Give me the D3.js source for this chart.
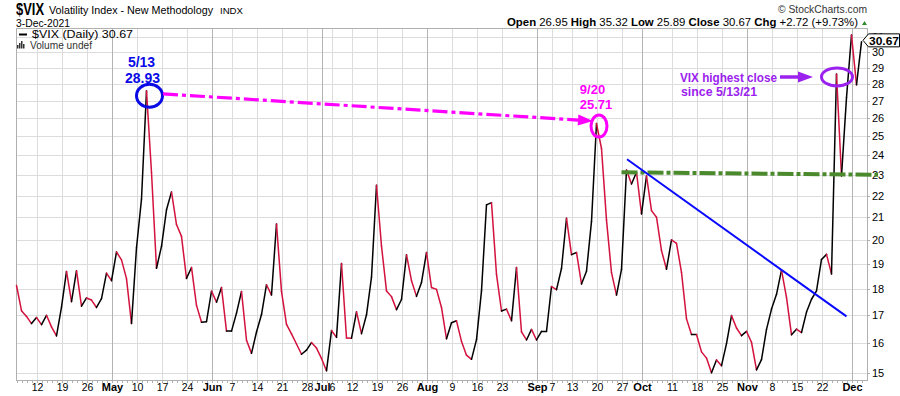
<!DOCTYPE html>
<html>
<head>
<meta charset="utf-8">
<script src="https://cdn.jsdelivr.net/npm/d3@7"></script>
<style>
  body { margin: 0; background: #fff; }
  svg { display: block; font-family: "Liberation Sans", Arial, sans-serif; }
</style>
</head>
<body>
<div id="chart"></div>
<script>
// trading days, 2021
const days = [
  "4/6","4/7","4/8","4/9","4/12","4/13","4/14","4/15","4/16","4/19","4/20","4/21","4/22","4/23","4/26","4/27","4/28","4/29","4/30",
  "5/3","5/4","5/5","5/6","5/7","5/10","5/11","5/12","5/13","5/14","5/17","5/18","5/19","5/20","5/21","5/24","5/25","5/26","5/27","5/28",
  "6/1","6/2","6/3","6/4","6/7","6/8","6/9","6/10","6/11","6/14","6/15","6/16","6/17","6/18","6/21","6/22","6/23","6/24","6/25","6/28","6/29","6/30",
  "7/1","7/2","7/6","7/7","7/8","7/9","7/12","7/13","7/14","7/15","7/16","7/19","7/20","7/21","7/22","7/23","7/26","7/27","7/28","7/29","7/30",
  "8/2","8/3","8/4","8/5","8/6","8/9","8/10","8/11","8/12","8/13","8/16","8/17","8/18","8/19","8/20","8/23","8/24","8/25","8/26","8/27","8/30","8/31",
  "9/1","9/2","9/3","9/7","9/8","9/9","9/10","9/13","9/14","9/15","9/16","9/17","9/20","9/21","9/22","9/23","9/24","9/27","9/28","9/29","9/30",
  "10/1","10/4","10/5","10/6","10/7","10/8","10/11","10/12","10/13","10/14","10/15","10/18","10/19","10/20","10/21","10/22","10/25","10/26","10/27","10/28","10/29",
  "11/1","11/2","11/3","11/4","11/5","11/8","11/9","11/10","11/11","11/12","11/15","11/16","11/17","11/18","11/19","11/22","11/23","11/24","11/26","11/29","11/30",
  "12/1","12/2","12/3"
];

const closes = [
  18.12,17.16,16.95,16.69,16.91,16.65,16.99,16.57,16.25,17.29,18.68,17.50,18.71,17.33,17.64,17.56,17.28,17.61,18.61,
  18.31,19.48,19.15,18.39,16.69,19.66,21.84,27.59,23.13,18.81,19.72,21.34,22.18,20.67,20.15,18.40,18.84,17.36,16.74,16.76,
  17.90,17.48,18.04,16.42,16.42,17.07,17.89,16.10,15.65,16.39,17.02,18.15,17.75,20.70,17.89,16.66,16.32,15.97,15.62,15.76,16.02,15.83,
  15.48,15.07,16.44,16.20,19.00,16.18,16.17,17.12,16.33,17.01,18.45,22.50,19.73,17.91,17.69,17.20,17.58,19.36,18.31,17.70,18.24,
  19.46,18.04,17.97,17.28,16.15,16.72,16.79,16.06,15.59,15.45,16.12,17.91,21.57,21.67,18.56,17.15,17.22,16.79,18.84,16.39,16.11,16.48,
  16.11,16.41,16.41,18.08,17.96,18.80,20.95,19.37,19.46,18.18,18.69,20.81,25.71,24.36,20.87,18.63,17.75,18.76,23.25,22.56,23.14,
  21.15,22.96,21.30,21.00,19.54,18.77,20.00,19.85,18.64,16.86,16.30,16.30,15.70,15.49,15.01,15.43,15.24,15.98,16.98,16.53,16.26,
  16.41,16.03,15.10,15.44,16.48,17.22,17.78,18.73,17.66,16.29,16.49,16.37,17.11,17.59,17.91,19.17,19.38,18.58,28.62,22.96,27.19,
  31.12,27.95,30.67
];

const tickDays = ["4/12","4/19","4/26","5/3","5/10","5/17","5/24","6/1","6/7","6/14","6/21","6/28","7/1","7/6","7/12","7/19","7/26",
  "8/2","8/9","8/16","8/23","9/1","9/7","9/13","9/20","9/27","10/1","10/11","10/18","10/25","11/1","11/8","11/15","11/22","12/1"];
const tickLabels = ["12","19","26","May","10","17","24","Jun","7","14","21","28","Jul","6","12","19","26",
  "Aug","9","16","23","Sep","7","13","20","27","Oct","11","18","25","Nov","8","15","22","Dec"];
const monthLabels = ["May","Jun","Jul","Aug","Sep","Oct","Nov","Dec"];

const yTicks = [15,16,17,18,19,20,21,22,23,24,25,26,27,28,29,30,31];

const quoteLabels = ["Open","High","Low","Close","Chg"];
const quoteValues = ["26.95","35.32","25.89","30.67","+2.72 (+9.73%)"];
const lastClose = 30.67;

const W = 900, H = 396;
const plotL = 16, plotR = 867, plotT = 28, plotB = 380;

const svg = d3.select("#chart").append("svg")
  .attr("width", W)
  .attr("height", H);

svg.append("rect").attr("width", W).attr("height", H).attr("fill", "#fff");

const x = d3.scalePoint().domain(days).range([16.5, 861.5]);
const y = d3.scaleLog().domain([15, 31]).range([373, 36.9]);

// grid
svg.append("g").selectAll("line")
  .data(yTicks)
  .join("line")
  .attr("x1", plotL).attr("x2", plotR)
  .attr("y1", d => Math.round(y(d)) + 0.5).attr("y2", d => Math.round(y(d)) + 0.5)
  .attr("stroke", "#dcdcdc");

svg.append("g").selectAll("line")
  .data(tickDays)
  .join("line")
  .attr("x1", d => Math.round(x(d)) + 0.5).attr("x2", d => Math.round(x(d)) + 0.5)
  .attr("y1", plotT).attr("y2", plotB)
  .attr("stroke", (d, i) => monthLabels.includes(tickLabels[i]) ? "#b4b4b4" : "#dcdcdc");

// frame
svg.append("rect")
  .attr("x", plotL + 0.5).attr("y", plotT + 0.5)
  .attr("width", plotR - plotL).attr("height", plotB - plotT)
  .attr("fill", "none").attr("stroke", "#b0b0b0");

// daily ticks on the bottom, integer ticks on the right
svg.append("g").selectAll("line")
  .data(days)
  .join("line")
  .attr("x1", d => Math.round(x(d)) + 0.5).attr("x2", d => Math.round(x(d)) + 0.5)
  .attr("y1", plotB).attr("y2", plotB + 3)
  .attr("stroke", "#b0b0b0");

svg.append("g").selectAll("line")
  .data(yTicks)
  .join("line")
  .attr("x1", plotR).attr("x2", plotR + 3)
  .attr("y1", d => Math.round(y(d)) + 0.5).attr("y2", d => Math.round(y(d)) + 0.5)
  .attr("stroke", "#b0b0b0");

// x labels
svg.append("g").selectAll("text")
  .data(tickDays)
  .join("text")
  .attr("x", d => x(d) + 1)
  .attr("y", 391)
  .attr("text-anchor", "middle")
  .attr("font-size", (d, i) => monthLabels.includes(tickLabels[i]) ? 11 : 10.5)
  .attr("font-weight", (d, i) => monthLabels.includes(tickLabels[i]) ? "bold" : "normal")
  .attr("fill", "#000")
  .text((d, i) => tickLabels[i]);

// y labels (31 sits mostly behind the price tag, as in the original)
svg.append("g").selectAll("text")
  .data(yTicks)
  .join("text")
  .attr("x", 872)
  .attr("y", d => y(d) + 4)
  .attr("font-size", 11)
  .attr("fill", "#000")
  .text(d => d);

// price line: black when up, red when down
const pts = days.map((d, i) => [x(d), y(closes[i]), closes[i]]);
svg.append("g").selectAll("line")
  .data(d3.pairs(pts))
  .join("line")
  .attr("x1", d => d[0][0]).attr("y1", d => d[0][1])
  .attr("x2", d => d[1][0]).attr("y2", d => d[1][1])
  .attr("stroke", d => d[1][2] >= d[0][2] ? "#000" : "#d3123d")
  .attr("stroke-width", 1.5)
  .attr("stroke-linecap", "round");

// ---- annotations ----
const mayX = x("5/12"), mayY = y(27.59);
const sepX = x("9/20"), sepY = y(25.71);
const novX = x("11/26"), novY = y(28.62);

// May circle + label
svg.append("ellipse")
  .attr("cx", mayX + 3).attr("cy", mayY + 5)
  .attr("rx", 13).attr("ry", 11.5)
  .attr("fill", "none").attr("stroke", "#0a0ae6").attr("stroke-width", 3);
svg.append("text").attr("x", mayX - 5).attr("y", 67)
  .attr("text-anchor", "middle").attr("font-size", 14).attr("font-weight", "bold")
  .attr("fill", "#0a0ae6").text("5/13");
svg.append("text").attr("x", mayX - 4).attr("y", 82.5)
  .attr("text-anchor", "middle").attr("font-size", 14).attr("font-weight", "bold")
  .attr("fill", "#0a0ae6").text("28.93");

// magenta dash-dot arrow from May high to Sep high
const a0 = [mayX + 16.5, mayY + 3], a1 = [sepX - 3.5, sepY - 2.5];
const ang = Math.atan2(a1[1] - a0[1], a1[0] - a0[0]);
const back = [a1[0] - 15 * Math.cos(ang), a1[1] - 15 * Math.sin(ang)];
svg.append("line")
  .attr("x1", a0[0]).attr("y1", a0[1]).attr("x2", back[0]).attr("y2", back[1])
  .attr("stroke", "#ff00ff").attr("stroke-width", 3.2)
  .attr("stroke-dasharray", "15,4,4,4");
svg.append("polygon")
  .attr("points", [
    a1,
    [back[0] + 5.5 * Math.sin(ang), back[1] - 5.5 * Math.cos(ang)],
    [back[0] - 5.5 * Math.sin(ang), back[1] + 5.5 * Math.cos(ang)]
  ].map(p => p.join(",")).join(" "))
  .attr("fill", "#ff00ff");

// Sep circle + label
svg.append("ellipse")
  .attr("cx", sepX + 2.5).attr("cy", sepY + 2.5)
  .attr("rx", 8).attr("ry", 11)
  .attr("fill", "none").attr("stroke", "#ff00ff").attr("stroke-width", 3);
svg.append("text").attr("x", sepX - 4).attr("y", 93.5)
  .attr("text-anchor", "middle").attr("font-size", 13).attr("font-weight", "bold")
  .attr("fill", "#ff00ff").text("9/20");
svg.append("text").attr("x", sepX - 0.5).attr("y", 109)
  .attr("text-anchor", "middle").attr("font-size", 13).attr("font-weight", "bold")
  .attr("fill", "#ff00ff").text("25.71");

// green resistance line at the late-Sep closes
svg.append("line")
  .attr("x1", x("9/27")).attr("y1", y(23.14))
  .attr("x2", 878).attr("y2", y(23.14) + 2.5)
  .attr("stroke", "#4a8a2c").attr("stroke-width", 4)
  .attr("stroke-dasharray", "16,3,4,3");

// blue down trendline
svg.append("line")
  .attr("x1", x("9/28") + 0.5).attr("y1", y(23.8))
  .attr("x2", x("11/30")).attr("y2", y(16.95))
  .attr("stroke", "#0a0aff").attr("stroke-width", 2);

// purple note
const purple = "#9b22ee";
svg.append("text").attr("x", 680).attr("y", 82)
  .attr("font-size", 13).attr("font-weight", "bold").attr("fill", purple)
  .attr("textLength", 97).attr("lengthAdjust", "spacingAndGlyphs")
  .text("VIX highest close");
svg.append("text").attr("x", 681).attr("y", 96)
  .attr("font-size", 13).attr("font-weight", "bold").attr("fill", purple)
  .attr("textLength", 76).attr("lengthAdjust", "spacingAndGlyphs")
  .text("since 5/13/21");
svg.append("line")
  .attr("x1", 780).attr("y1", 77).attr("x2", 800).attr("y2", 77)
  .attr("stroke", purple).attr("stroke-width", 3.5);
svg.append("polygon")
  .attr("points", "813,77 798,71.5 798,82.5")
  .attr("fill", purple);
svg.append("ellipse")
  .attr("cx", novX + 0.5).attr("cy", novY + 3)
  .attr("rx", 15.5).attr("ry", 9)
  .attr("fill", "none").attr("stroke", purple).attr("stroke-width", 3);

// last price tag
const tagY = y(lastClose) - 1.5;
svg.append("polygon")
  .attr("points", [[863, tagY], [868.5, tagY - 6.5], [899.5, tagY - 6.5], [899.5, tagY + 6.5], [868.5, tagY + 6.5]]
    .map(p => p.join(",")).join(" "))
  .attr("fill", "#fff").attr("stroke", "#000").attr("stroke-width", 1);
svg.append("text").attr("x", 884).attr("y", tagY + 4.5)
  .attr("text-anchor", "middle").attr("font-size", 11.5).attr("font-weight", "bold")
  .attr("textLength", 30).attr("lengthAdjust", "spacingAndGlyphs")
  .text(lastClose.toFixed(2));

// ---- header ----
svg.append("text").attr("x", 16).attr("y", 14.5)
  .attr("font-size", 16).attr("font-weight", "bold")
  .attr("textLength", 28).attr("lengthAdjust", "spacingAndGlyphs").text("$VIX");
svg.append("text").attr("x", 49).attr("y", 13.5)
  .attr("font-size", 10.5)
  .attr("textLength", 164).attr("lengthAdjust", "spacingAndGlyphs").text("Volatility Index - New Methodology");
svg.append("text").attr("x", 220).attr("y", 13.5)
  .attr("font-size", 9.5).attr("textLength", 23).attr("lengthAdjust", "spacingAndGlyphs").text("INDX");
svg.append("text").attr("x", 16).attr("y", 26.5)
  .attr("font-size", 10.5).attr("textLength", 54).attr("lengthAdjust", "spacingAndGlyphs").text("3-Dec-2021");
svg.append("text").attr("x", 778).attr("y", 12.5)
  .attr("font-size", 11).attr("fill", "#333")
  .attr("textLength", 89).attr("lengthAdjust", "spacingAndGlyphs").text("\u00A9 StockCharts.com");

const q = svg.append("text").attr("x", 507).attr("y", 26)
  .attr("font-size", 11.5)
  .attr("textLength", 351).attr("lengthAdjust", "spacingAndGlyphs");
quoteLabels.forEach((l, i) => {
  q.append("tspan").attr("font-weight", "bold").text((i ? "  " : "") + l + " ");
  q.append("tspan").text(quoteValues[i]);
});
svg.append("polygon").attr("points", "862,25 864.5,21 867,25").attr("fill", "#2e8b2e");

// legend
svg.append("line").attr("x1", 19).attr("x2", 27).attr("y1", 34.5).attr("y2", 34.5)
  .attr("stroke", "#000").attr("stroke-width", 2);
svg.append("text").attr("x", 32).attr("y", 38)
  .attr("font-size", 10).attr("textLength", 101).attr("lengthAdjust", "spacingAndGlyphs")
  .text("$VIX (Daily) " + lastClose.toFixed(2));
[[17, 45], [19, 43], [21, 41], [23, 44]].forEach(b => {
  svg.append("rect").attr("x", b[0]).attr("y", b[1]).attr("width", 1.5).attr("height", 48.5 - b[1]).attr("fill", "#333");
});
svg.append("text").attr("x", 30).attr("y", 48.5)
  .attr("font-size", 10).attr("fill", "#333")
  .attr("textLength", 62).attr("lengthAdjust", "spacingAndGlyphs").text("Volume undef");
</script>
</body>
</html>
